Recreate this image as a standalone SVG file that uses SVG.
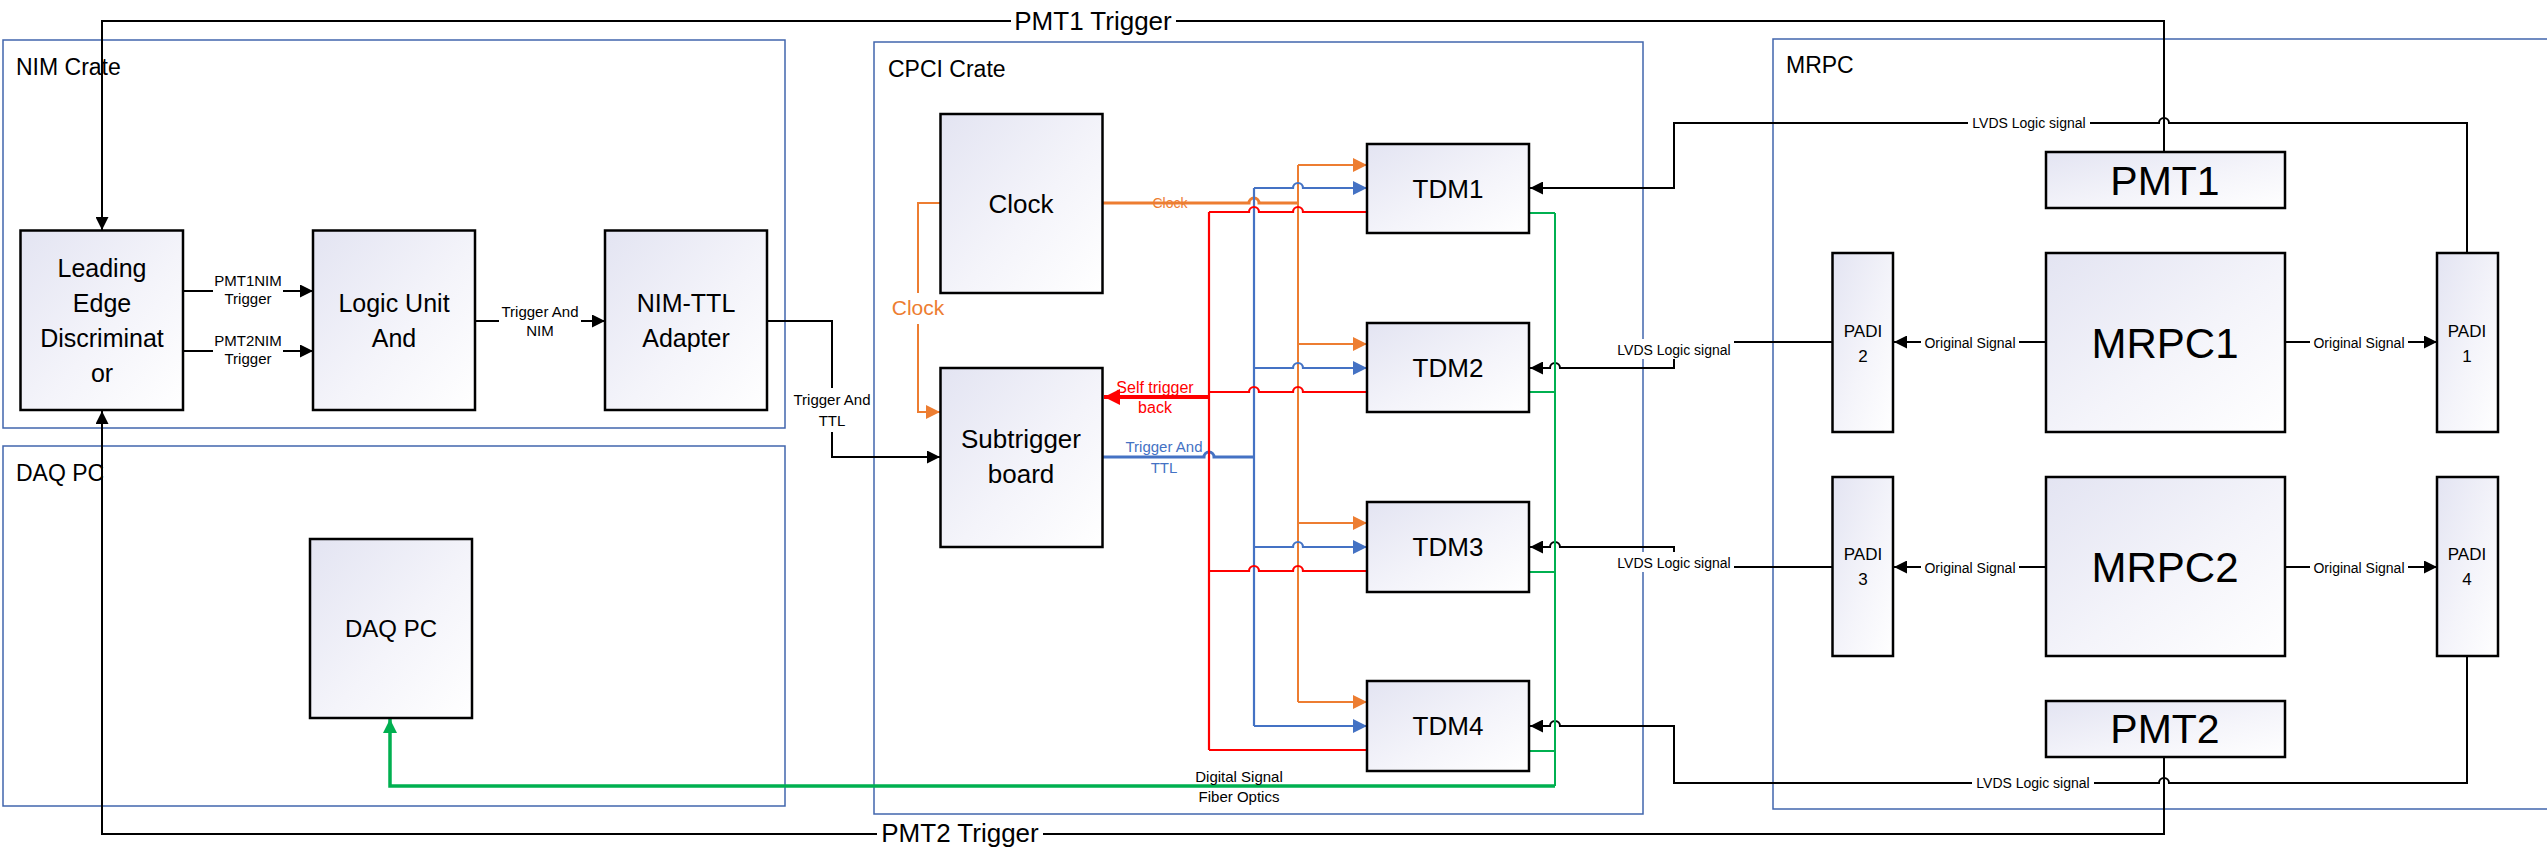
<svg xmlns="http://www.w3.org/2000/svg" width="2547" height="850" viewBox="0 0 2547 850">
<defs>
<linearGradient id="nf" x1="0" y1="0" x2="1" y2="1">
<stop offset="0" stop-color="#e3e4f2"/>
<stop offset="0.55" stop-color="#f4f4fa"/>
<stop offset="1" stop-color="#ffffff"/>
</linearGradient>
<marker id="aK" markerUnits="userSpaceOnUse" markerWidth="13" markerHeight="13" viewBox="0 0 13 13" refX="13" refY="6.5" orient="auto"><path d="M0,0 L13,6.5 L0,13 z" fill="#000"/></marker>
<marker id="aO" markerUnits="userSpaceOnUse" markerWidth="14" markerHeight="14" viewBox="0 0 14 14" refX="14" refY="7" orient="auto"><path d="M0,0 L14,7 L0,14 z" fill="#ED7D31"/></marker>
<marker id="aB" markerUnits="userSpaceOnUse" markerWidth="14" markerHeight="14" viewBox="0 0 14 14" refX="14" refY="7" orient="auto"><path d="M0,0 L14,7 L0,14 z" fill="#4472C4"/></marker>
<marker id="aR" markerUnits="userSpaceOnUse" markerWidth="16" markerHeight="16" viewBox="0 0 16 16" refX="16" refY="8" orient="auto"><path d="M0,0 L16,8 L0,16 z" fill="#FF0000"/></marker>
<marker id="aG" markerUnits="userSpaceOnUse" markerWidth="14" markerHeight="14" viewBox="0 0 14 14" refX="14" refY="7" orient="auto"><path d="M0,0 L14,7 L0,14 z" fill="#00B050"/></marker>
<style>
text { font-family: "Liberation Sans", Arial, sans-serif; fill: #000; }
.c { fill: none; stroke: #4166ad; stroke-width: 1.5; }
.ct { font-size: 23px; }
.n { fill: url(#nf); stroke: #000; stroke-width: 2.5; }
.nt { font-size: 25px; text-anchor: middle; }
.big { font-size: 42px; text-anchor: middle; }
.pmt { font-size: 41px; text-anchor: middle; }
.pd { font-size: 17px; text-anchor: middle; }
.k { fill: none; stroke: #000; stroke-width: 2; }
.o { fill: none; stroke: #ED7D31; stroke-width: 2; }
.b { fill: none; stroke: #4472C4; stroke-width: 2.2; }
.r { fill: none; stroke: #FF0000; stroke-width: 2.2; }
.g { fill: none; stroke: #00B050; stroke-width: 2; }
.bg { fill: #fff; }
.sl { font-size: 15px; text-anchor: middle; }
.lv { font-size: 14px; text-anchor: middle; }
.tr { font-size: 26px; text-anchor: middle; }
</style>
</defs>

<g id="containers">
<g id="nim-crate"><rect class="c" x="3" y="40" width="782" height="388"/><text class="ct" x="16" y="75">NIM Crate</text></g>
<g id="daq-pc-area"><rect class="c" x="3" y="446" width="782" height="360"/><text class="ct" x="16" y="481">DAQ PC</text></g>
<g id="cpci-crate"><rect class="c" x="874" y="42" width="769" height="772"/><text class="ct" x="888" y="77">CPCI Crate</text></g>
<g id="mrpc-area"><rect class="c" x="1773" y="39" width="800" height="770"/><text class="ct" x="1786" y="73">MRPC</text></g>
</g>

<g id="connectors">
<!-- PMT triggers -->
<path class="k" d="M2164,152 V21 H102 V230" marker-end="url(#aK)"/>
<path class="k" d="M2164,757 V834 H102 V411" marker-end="url(#aK)"/>
<!-- NIM chain -->
<path class="k" d="M183,291 H313" marker-end="url(#aK)"/>
<path class="k" d="M183,351 H313" marker-end="url(#aK)"/>
<path class="k" d="M475,321 H605" marker-end="url(#aK)"/>
<path class="k" d="M767,321 H832 V457 H940" marker-end="url(#aK)"/>
<!-- LVDS -->
<path class="k" d="M2467,253 V123 H2169 A5,5 0 0 0 2159,123 H1674 V188 H1530" marker-end="url(#aK)"/>
<path class="k" d="M1832,342 H1674 V368 H1560 A5,5 0 0 0 1550,368 H1530" marker-end="url(#aK)"/>
<path class="k" d="M1832,567 H1674 V547 H1560 A5,5 0 0 0 1550,547 H1530" marker-end="url(#aK)"/>
<path class="k" d="M2467,656 V783 H2169 A5,5 0 0 0 2159,783 H1674 V726 H1560 A5,5 0 0 0 1550,726 H1530" marker-end="url(#aK)"/>
<!-- Original signals -->
<path class="k" d="M2046,342 H1894" marker-end="url(#aK)"/>
<path class="k" d="M2285,342 H2437" marker-end="url(#aK)"/>
<path class="k" d="M2046,567 H1894" marker-end="url(#aK)"/>
<path class="k" d="M2285,567 H2437" marker-end="url(#aK)"/>
<!-- Clock (orange) -->
<path class="o" style="stroke-width:3" d="M1103,203 H1249 A5,5 0 0 1 1259,203 H1298"/>
<path class="o" d="M1298,165 V702"/>
<path class="o" d="M1298,165 H1367" marker-end="url(#aO)"/>
<path class="o" d="M1298,344 H1367" marker-end="url(#aO)"/>
<path class="o" d="M1298,523 H1367" marker-end="url(#aO)"/>
<path class="o" d="M1298,702 H1367" marker-end="url(#aO)"/>
<path class="o" d="M940,203 H918 V412 H940" marker-end="url(#aO)"/>
<!-- Trigger And TTL (blue) -->
<path class="b" style="stroke-width:3" d="M1103,457 H1204 A5,5 0 0 1 1214,457 H1254"/>
<path class="b" d="M1254,188 V726"/>
<path class="b" d="M1254,188 H1293 A5,5 0 0 1 1303,188 H1367" marker-end="url(#aB)"/>
<path class="b" d="M1254,368 H1293 A5,5 0 0 1 1303,368 H1367" marker-end="url(#aB)"/>
<path class="b" d="M1254,547 H1293 A5,5 0 0 1 1303,547 H1367" marker-end="url(#aB)"/>
<path class="b" d="M1254,726 H1367" marker-end="url(#aB)"/>
<!-- Self trigger back (red) -->
<path class="r" d="M1209,212 V750"/>
<path class="r" d="M1209,212 H1249 A5,5 0 0 1 1259,212 H1293 A5,5 0 0 1 1303,212 H1367"/>
<path class="r" d="M1209,392 H1249 A5,5 0 0 1 1259,392 H1293 A5,5 0 0 1 1303,392 H1367"/>
<path class="r" d="M1209,571 H1249 A5,5 0 0 1 1259,571 H1293 A5,5 0 0 1 1303,571 H1367"/>
<path class="r" d="M1209,750 H1367"/>
<path class="r" style="stroke-width:4" d="M1209,397 H1104" marker-end="url(#aR)"/>
<!-- Digital signal (green) -->
<path class="g" d="M1529,213 H1555 M1529,392 H1555 M1529,572 H1555 M1529,751 H1555"/>
<path class="g" d="M1555,213 V786"/>
<path class="g" style="stroke-width:3.5" d="M1555,786 H390 V719" marker-end="url(#aG)"/>
</g>

<g id="connector-labels">
<rect class="bg" x="1011" y="8" width="165" height="28"/>
<text class="tr" x="1093" y="30">PMT1 Trigger</text>
<rect class="bg" x="877" y="820" width="166" height="28"/>
<text class="tr" x="960" y="842">PMT2 Trigger</text>
<rect class="bg" x="213" y="272" width="70" height="38"/>
<text class="sl" x="248" y="286">PMT1NIM</text>
<text class="sl" x="248" y="304">Trigger</text>
<rect class="bg" x="213" y="332" width="70" height="38"/>
<text class="sl" x="248" y="346">PMT2NIM</text>
<text class="sl" x="248" y="364">Trigger</text>
<rect class="bg" x="499" y="300" width="82" height="41"/>
<text class="sl" x="540" y="317">Trigger And</text>
<text class="sl" x="540" y="336">NIM</text>
<rect class="bg" x="792" y="388" width="80" height="44"/>
<text class="sl" x="832" y="405">Trigger And</text>
<text class="sl" x="832" y="426">TTL</text>
<rect class="bg" x="1968" y="113" width="122" height="21"/>
<text class="lv" x="2029" y="128">LVDS Logic signal</text>
<rect class="bg" x="1614" y="339" width="120" height="20"/>
<text class="lv" x="1674" y="355">LVDS Logic signal</text>
<rect class="bg" x="1614" y="552" width="120" height="20"/>
<text class="lv" x="1674" y="568">LVDS Logic signal</text>
<rect class="bg" x="1972" y="773" width="122" height="20"/>
<text class="lv" x="2033" y="788">LVDS Logic signal</text>
<rect class="bg" x="1921" y="333" width="98" height="20"/>
<text class="lv" x="1970" y="348">Original Signal</text>
<rect class="bg" x="2310" y="333" width="98" height="20"/>
<text class="lv" x="2359" y="348">Original Signal</text>
<rect class="bg" x="1921" y="558" width="98" height="20"/>
<text class="lv" x="1970" y="573">Original Signal</text>
<rect class="bg" x="2310" y="558" width="98" height="20"/>
<text class="lv" x="2359" y="573">Original Signal</text>
<rect class="bg" x="896" y="293" width="45" height="31"/>
<text x="918" y="315" style="font-size:21px;text-anchor:middle;fill:#ED7D31">Clock</text>
<text x="1170" y="208" style="font-size:14px;text-anchor:middle;fill:#ED7D31">Clock</text>
<text x="1164" y="452" style="font-size:15px;text-anchor:middle;fill:#4472C4">Trigger And</text>
<text x="1164" y="473" style="font-size:15px;text-anchor:middle;fill:#4472C4">TTL</text>
<text x="1155" y="393" style="font-size:16px;text-anchor:middle;fill:#FF0000">Self trigger</text>
<text x="1155" y="413" style="font-size:16px;text-anchor:middle;fill:#FF0000">back</text>
<text class="sl" x="1239" y="782">Digital Signal</text>
<text class="sl" x="1239" y="802">Fiber Optics</text>
</g>

<g id="leading-edge"><rect class="n" x="20.5" y="230.5" width="162.5" height="179.5"/>
<text class="nt" x="102" y="277">Leading</text><text class="nt" x="102" y="312">Edge</text><text class="nt" x="102" y="347">Discriminat</text><text class="nt" x="102" y="382">or</text></g>
<g id="logic-unit"><rect class="n" x="313" y="230.5" width="162" height="179.5"/>
<text class="nt" x="394" y="312">Logic Unit</text><text class="nt" x="394" y="347">And</text></g>
<g id="nim-ttl"><rect class="n" x="605" y="230.5" width="162" height="179.5"/>
<text class="nt" x="686" y="312">NIM-TTL</text><text class="nt" x="686" y="347">Adapter</text></g>
<g id="daq-pc"><rect class="n" x="310" y="539" width="162" height="179"/>
<text class="nt" x="391" y="637" style="font-size:24px">DAQ PC</text></g>
<g id="clock"><rect class="n" x="940.5" y="114" width="162" height="179"/>
<text class="nt" x="1021" y="213" style="font-size:26px">Clock</text></g>
<g id="subtrigger"><rect class="n" x="940.5" y="368" width="162" height="179"/>
<text class="nt" x="1021" y="448" style="font-size:26px">Subtrigger</text><text class="nt" x="1021" y="483" style="font-size:26px">board</text></g>
<g id="tdm1"><rect class="n" x="1367" y="144" width="162" height="89"/><text class="nt" x="1448" y="198" style="font-size:26px">TDM1</text></g>
<g id="tdm2"><rect class="n" x="1367" y="323" width="162" height="89"/><text class="nt" x="1448" y="377" style="font-size:26px">TDM2</text></g>
<g id="tdm3"><rect class="n" x="1367" y="502" width="162" height="90"/><text class="nt" x="1448" y="556" style="font-size:26px">TDM3</text></g>
<g id="tdm4"><rect class="n" x="1367" y="681" width="162" height="90"/><text class="nt" x="1448" y="735" style="font-size:26px">TDM4</text></g>
<g id="pmt1"><rect class="n" x="2046" y="152" width="239" height="56"/><text class="pmt" x="2165" y="195">PMT1</text></g>
<g id="pmt2"><rect class="n" x="2046" y="701" width="239" height="56"/><text class="pmt" x="2165" y="743">PMT2</text></g>
<g id="mrpc1"><rect class="n" x="2046" y="253" width="239" height="179"/><text class="big" x="2165" y="358">MRPC1</text></g>
<g id="mrpc2"><rect class="n" x="2046" y="477" width="239" height="179"/><text class="big" x="2165" y="582">MRPC2</text></g>
<g id="padi2"><rect class="n" x="1832.5" y="253" width="60.5" height="179"/><text class="pd" x="1863" y="337">PADI</text><text class="pd" x="1863" y="362">2</text></g>
<g id="padi1"><rect class="n" x="2437" y="253" width="61" height="179"/><text class="pd" x="2467" y="337">PADI</text><text class="pd" x="2467" y="362">1</text></g>
<g id="padi3"><rect class="n" x="1832.5" y="477" width="60.5" height="179"/><text class="pd" x="1863" y="560">PADI</text><text class="pd" x="1863" y="585">3</text></g>
<g id="padi4"><rect class="n" x="2437" y="477" width="61" height="179"/><text class="pd" x="2467" y="560">PADI</text><text class="pd" x="2467" y="585">4</text></g>
</svg>
